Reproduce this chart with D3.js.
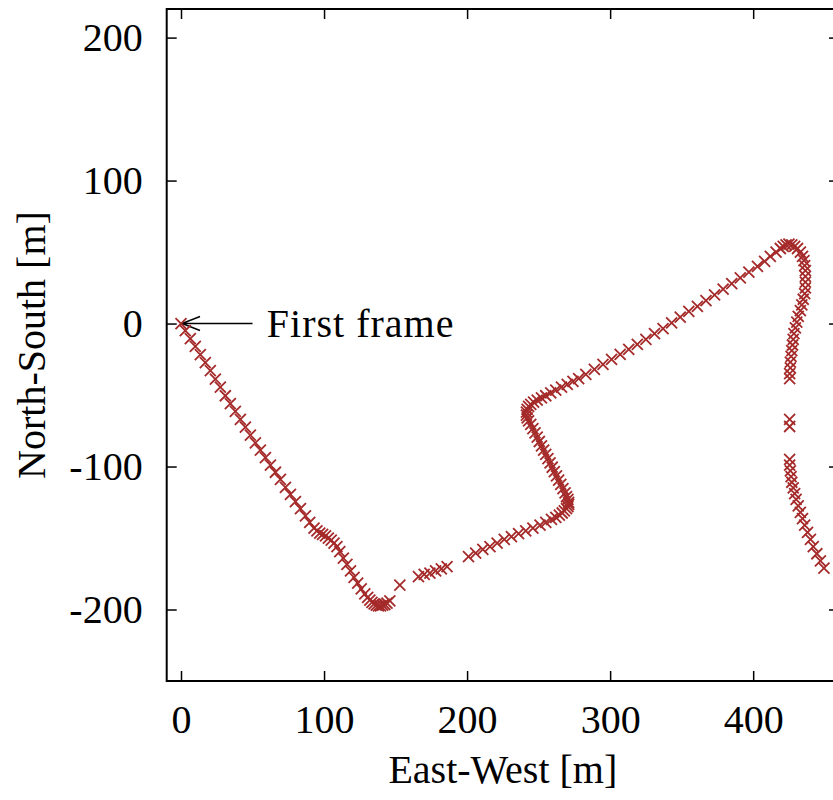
<!DOCTYPE html>
<html>
<head>
<meta charset="utf-8">
<script src="https://cdn.jsdelivr.net/npm/d3@7"></script>
<style>
  html, body { margin: 0; padding: 0; background: #fff; }
  svg { display: block; }
  svg text { font-family: "Liberation Serif", "DejaVu Serif"; fill: #000; }
</style>
</head>
<body>
<svg id="chart" width="833" height="800"></svg>
<script>
// ---------------- data ----------------
const xTicks = [0, 100, 200, 300, 400];
const yTicks = [-200, -100, 0, 100, 200];
const xLabel = "East-West [m]";
const yLabel = "North-South [m]";
const annotationText = "First frame";

const trackEast = [
  0,3,6.5,10,13.5,17,20.5,24,27.5,31,34.5,38,41.5,45,48.5,52,55.5,59,62.5,66,69.5,73,76.5,80,83.5,87,90,93,
  95,97,99,101,103,105,107,109,
  111,113.5,116,118.5,121,123.5,126,128.5,130.5,132,133.5,135,136.5,138,139.5,141,142.5,144,146,
  153,
  166,170,174,178,182,186,
  201,206,211,216,221,226,231,236,241,246,251,255,259,262,264.5,266.5,268,269.5,270.5,271,271,270.5,269.5,268.5,
  267,265.5,264,262.5,261,259.5,258,256.5,255,253.5,252,250.5,249,247.5,246,244.5,243,242,241.5,241.5,242,243,
  244.5,246.5,249,252,255,258.5,262,266,270,274,278,
  283,289,295,301,307,313,319,325,331,337,343,349,355,361,367,373,379,385,391,397,403,408,412,416,419,421,423,425,
  427,429,431,433,434.5,435.5,436,436.5,436.5,436.5,436.5,436,435,434,433,431.5,430.5,429.5,428.5,428,427.5,427,
  426.5,426,426,425.5,425.5,
  425.5,425.5,
  425.5,425.5,426,426.5,427,428,429,430,431.5,433,434.5,436,438,440,442,444.5,447,449.5
];
const trackNorth = [
  0,-5,-10.5,-16,-21.7,-27.4,-33,-38.8,-44.5,-50.5,-56,-61.5,-67,-72.5,-78,-83.5,-88.5,-93.8,-99,-104,-109,-114.5,-119.5,-124.5,-129.5,-134.5,-139,-143,
  -145,-146.5,-147.5,-148.5,-150,-151.5,-153.5,-156,
  -159.5,-164,-168.5,-173,-177.5,-181.5,-185.5,-189,-191.5,-193.5,-195,-196,-197,-197.5,-197.5,-197,-196.5,-195.5,-194,
  -183,
  -177,-175.5,-174.5,-173,-171.5,-170,
  -163,-160.5,-158,-156,-153.5,-151,-149,-147,-145,-143,-141,-139,-137,-135.5,-134,-132.5,-131,-129.5,-128,-126.5,-125,-123,-121,-118.5,
  -115.5,-112.5,-109.5,-106.5,-103.5,-100.5,-97.5,-94.5,-91.5,-88.5,-85.5,-82.5,-79.5,-76.5,-73.5,-70.5,-68,-66,-64,-62,-60,-58,
  -56.5,-55,-53.5,-52,-50.5,-48.5,-46.5,-44.5,-42.5,-40.5,-38.5,
  -35.5,-32,-28.5,-25,-21.5,-18,-14.5,-11,-7,-3.5,0.5,4.5,8.5,12,16,20,24,28,32,36,40,43.5,47,50,52.5,54,55,55.5,
  55,54,52.5,50,47,44,40.5,37,33,29,25,21,17,13,9,5,1,-3,-7,-11,-15,-19,
  -23,-27,-31,-35,-38.5,
  -67,-72,
  -95,-99,-103,-107,-111,-115,-119,-123,-127.5,-132,-136.5,-141,-146,-151,-156,-161,-166,-171
];

// ---------------- layout ----------------
const svg = d3.select("#chart");
const plotLeft = 166.7, plotRight = 839, plotTop = 9, plotBottom = 681;

const x = d3.scaleLinear().domain([-10, 460]).range([plotLeft, plotRight]);
const y = d3.scaleLinear().domain([-250, 220]).range([plotBottom, plotTop]);

const fontSize = 40;
const fontFam = "'Liberation Serif', 'DejaVu Serif'";
const markerColor = "#a52a2a";
const fmt = d => String(d);   // plain hyphen minus, as in the reference

// axes (inward ticks on all four sides)
const tickLen = 10;
const gx = svg.append("g").attr("transform", `translate(0,${plotBottom})`)
  .call(d3.axisBottom(x).tickValues(xTicks).tickSizeInner(-tickLen).tickSizeOuter(0).tickFormat(fmt));
gx.selectAll("text").attr("y", 52).attr("dy", 0);

const gxTop = svg.append("g").attr("transform", `translate(0,${plotTop})`)
  .call(d3.axisTop(x).tickValues(xTicks).tickSizeInner(-tickLen).tickSizeOuter(0).tickFormat(""));

const gy = svg.append("g").attr("transform", `translate(${plotLeft},0)`)
  .call(d3.axisLeft(y).tickValues(yTicks).tickSizeInner(-tickLen).tickSizeOuter(0).tickFormat(fmt));
gy.selectAll("text").attr("x", -24).attr("dy", "0.33em");

const gyRight = svg.append("g").attr("transform", `translate(${plotRight},0)`)
  .call(d3.axisRight(y).tickValues(yTicks).tickSizeInner(-tickLen).tickSizeOuter(0).tickFormat(""));

[gx, gxTop, gy, gyRight].forEach(g => {
  g.attr("font-family", null).attr("font-size", null);
  g.select(".domain").remove();
  g.selectAll(".tick line").attr("stroke", "#000").attr("stroke-width", 1.5);
  g.selectAll("text").style("font-family", fontFam).style("font-size", fontSize + "px").attr("fill", "#000");
});

// frame
svg.append("rect")
  .attr("x", plotLeft).attr("y", plotTop)
  .attr("width", plotRight - plotLeft).attr("height", plotBottom - plotTop)
  .attr("fill", "none").attr("stroke", "#000").attr("stroke-width", 2);

// axis titles
svg.append("text")
  .attr("x", (plotLeft + plotRight) / 2).attr("y", 783)
  .attr("text-anchor", "middle")
  .style("font-family", fontFam)
  .style("font-size", fontSize + "px")
  .text(xLabel);

svg.append("text")
  .attr("transform", `translate(45,${(plotTop + plotBottom) / 2}) rotate(-90)`)
  .attr("text-anchor", "middle")
  .style("font-family", fontFam)
  .style("font-size", fontSize + "px")
  .text(yLabel);

// annotation: arrow to first frame
const ax0 = x(trackEast[0]), ay0 = y(trackNorth[0]);
const arrowStart = x(50);
svg.append("path")
  .attr("d", `M${arrowStart},${ay0} L${ax0 + 1},${ay0} M${ax0 + 19},${ay0 - 7} L${ax0 + 1},${ay0} L${ax0 + 19},${ay0 + 7}`)
  .attr("fill", "none").attr("stroke", "#000").attr("stroke-width", 1.5);

svg.append("text")
  .attr("x", x(60)).attr("y", ay0 + 13)
  .style("font-family", fontFam)
  .style("font-size", fontSize + "px")
  .style("letter-spacing", "1px")
  .text(annotationText);

// markers (x crosses)
const pts = trackEast.map((e, i) => [e, trackNorth[i]]);
const s = 5.5;
svg.append("g").selectAll("path.pt")
  .data(pts)
  .join("path")
  .attr("class", "pt")
  .attr("d", d => {
    const px = x(d[0]), py = y(d[1]);
    return `M${px - s},${py - s}L${px + s},${py + s}M${px - s},${py + s}L${px + s},${py - s}`;
  })
  .attr("fill", "none")
  .attr("stroke", markerColor)
  .attr("stroke-width", 1.8);
</script>
</body>
</html>
